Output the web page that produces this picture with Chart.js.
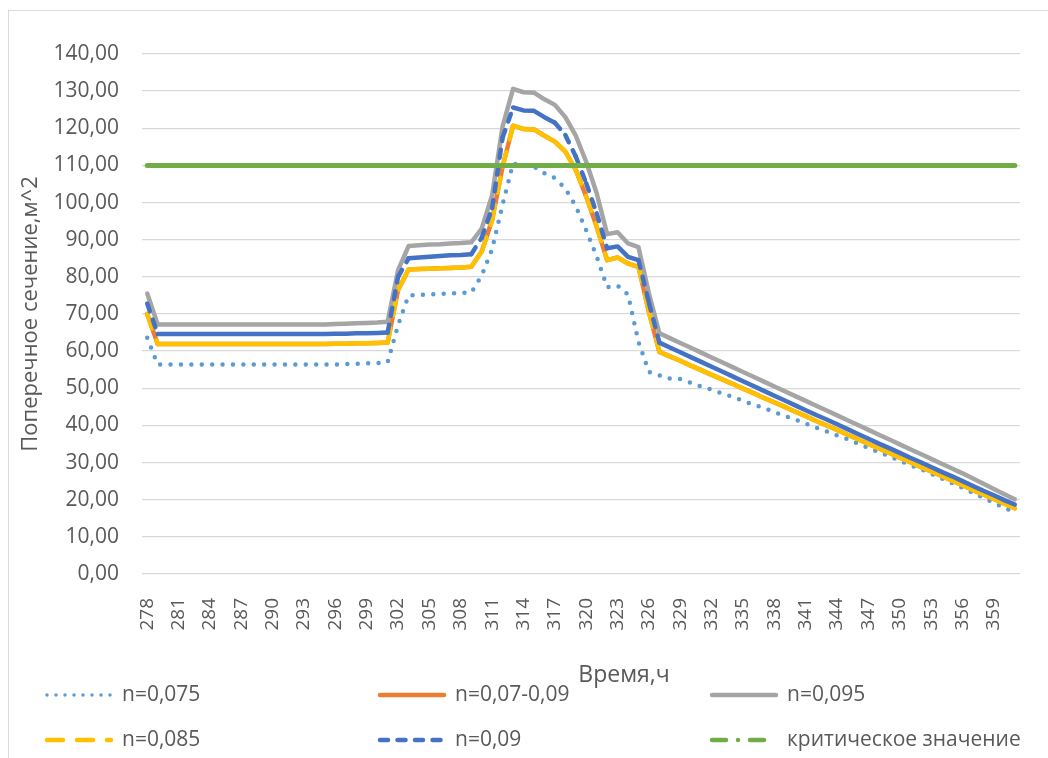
<!DOCTYPE html>
<html>
<head>
<meta charset="utf-8">
<script src="https://cdn.jsdelivr.net/npm/chart.js@4.4.1/dist/chart.umd.min.js"></script>
<style>
  html, body { margin: 0; padding: 0; background: #fff; overflow: hidden; }
  #frame { position: absolute; left: 8px; top: 10px; width: 1100px; height: 800px; border: 1.3px solid #d9d9d9; }
  #chart { position: absolute; left: 0; top: 0; }
</style>
</head>
<body>
<div id="frame"></div>
<canvas id="chart" width="1048" height="758"></canvas>
<script>
// time, hours
const times = [
  278, 279, 280, 281, 282, 283, 284, 285, 286, 287, 288, 289, 290, 291,
  292, 293, 294, 295, 296, 297, 298, 299, 300, 301, 302, 303, 304, 305,
  306, 307, 308, 309, 310, 311, 312, 313, 314, 315, 316, 317, 318, 319,
  320, 321, 322, 323, 324, 325, 326, 327, 328, 329, 330, 331, 332, 333,
  334, 335, 336, 337, 338, 339, 340, 341, 342, 343, 344, 345, 346, 347,
  348, 349, 350, 351, 352, 353, 354, 355, 356, 357, 358, 359, 360, 361
];

const n075 = [
  63.6, 56.4, 56.4, 56.4, 56.4, 56.4, 56.4, 56.4, 56.4, 56.4, 56.4, 56.4, 56.4, 56.4,
  56.4, 56.4, 56.4, 56.4, 56.4, 56.5, 56.6, 56.7, 56.8, 57.0, 67.0, 75.0, 75.1, 75.3,
  75.4, 75.5, 75.7, 75.8, 80.3, 87.5, 99.5, 110.5, 109.9, 109.7, 107.9, 106.6, 103.8, 99.0,
  92.5, 85.5, 77.2, 77.6, 75.2, 62.5, 54.4, 53.5, 52.6, 52.5, 51.5, 50.5, 49.6, 48.6,
  47.7, 46.6, 45.6, 44.7, 43.6, 42.5, 41.6, 40.5, 39.4, 38.4, 37.3, 36.3, 35.1, 33.9,
  32.8, 31.7, 30.5, 29.3, 28.3, 27.0, 25.7, 24.5, 23.2, 21.9, 20.5, 19.2, 17.8, 16.6
];

const n07_09 = [
  70.0, 61.9, 61.9, 61.9, 61.9, 61.9, 61.9, 61.9, 61.9, 61.9, 61.9, 61.9, 61.9, 61.9,
  61.9, 61.9, 61.9, 61.9, 62.0, 62.0, 62.1, 62.1, 62.2, 62.3, 76.5, 82.0, 82.1, 82.2,
  82.3, 82.4, 82.5, 82.7, 86.8, 95.3, 109.7, 120.7, 119.8, 119.7, 118.0, 116.4, 113.7, 108.8,
  101.6, 93.5, 84.5, 85.2, 83.6, 82.7, 70.5, 59.8, 58.6, 57.4, 56.1, 54.9, 53.6, 52.4,
  51.2, 49.9, 48.7, 47.4, 46.2, 45.0, 43.7, 42.5, 41.2, 40.0, 38.8, 37.5, 36.3, 35.0,
  33.8, 32.6, 31.3, 30.1, 28.8, 27.6, 26.4, 25.1, 23.9, 22.6, 21.4, 20.2, 18.9, 17.7
];

const n095 = [
  75.5, 67.2, 67.2, 67.2, 67.2, 67.2, 67.2, 67.2, 67.2, 67.2, 67.2, 67.2, 67.2, 67.2,
  67.2, 67.2, 67.2, 67.2, 67.3, 67.4, 67.5, 67.6, 67.7, 67.9, 81.8, 88.3, 88.5, 88.7,
  88.8, 89.0, 89.1, 89.3, 93.0, 102.0, 120.5, 130.6, 129.7, 129.6, 127.8, 126.3, 123.0, 118.0,
  111.0, 102.5, 91.5, 92.0, 89.0, 88.0, 75.5, 64.8, 63.5, 62.2, 60.9, 59.6, 58.3, 57.0,
  55.7, 54.4, 53.1, 51.8, 50.5, 49.2, 47.9, 46.6, 45.3, 44.0, 42.7, 41.4, 40.1, 38.8,
  37.5, 36.2, 34.9, 33.6, 32.3, 31.0, 29.7, 28.4, 27.1, 25.7, 24.3, 22.9, 21.5, 20.1
];

const n085 = [
  70.0, 61.9, 61.9, 61.9, 61.9, 61.9, 61.9, 61.9, 61.9, 61.9, 61.9, 61.9, 61.9, 61.9,
  61.9, 61.9, 61.9, 61.9, 62.0, 62.0, 62.1, 62.1, 62.2, 62.3, 76.5, 82.0, 82.1, 82.2,
  82.3, 82.4, 82.5, 82.7, 86.8, 95.3, 109.7, 120.7, 119.8, 119.7, 118.0, 116.4, 113.7, 108.8,
  101.6, 93.5, 84.5, 85.2, 83.6, 82.7, 70.5, 59.8, 58.6, 57.4, 56.1, 54.9, 53.6, 52.4,
  51.2, 49.9, 48.7, 47.4, 46.2, 45.0, 43.7, 42.5, 41.2, 40.0, 38.8, 37.5, 36.3, 35.0,
  33.8, 32.6, 31.3, 30.1, 28.8, 27.6, 26.4, 25.1, 23.9, 22.6, 21.4, 20.2, 18.9, 17.7
];

const n09 = [
  72.8, 64.6, 64.6, 64.6, 64.6, 64.6, 64.6, 64.6, 64.6, 64.6, 64.6, 64.6, 64.6, 64.6,
  64.6, 64.6, 64.6, 64.6, 64.7, 64.7, 64.8, 64.8, 64.9, 65.0, 80.0, 85.0, 85.2, 85.4,
  85.6, 85.8, 85.9, 86.1, 90.5, 98.5, 117.5, 125.6, 124.8, 124.7, 123.0, 121.5, 118.2, 112.4,
  105.2, 97.1, 87.7, 88.2, 85.4, 84.5, 73.0, 62.3, 61.0, 59.7, 58.4, 57.1, 55.8, 54.5,
  53.2, 51.9, 50.6, 49.3, 48.0, 46.7, 45.4, 44.1, 42.8, 41.6, 40.3, 39.0, 37.7, 36.4,
  35.1, 33.9, 32.6, 31.3, 30.1, 28.8, 27.5, 26.3, 25.0, 23.7, 22.4, 21.2, 19.9, 18.7
];

const critical = [
  110, 110, 110, 110, 110, 110, 110, 110, 110, 110, 110, 110, 110, 110,
  110, 110, 110, 110, 110, 110, 110, 110, 110, 110, 110, 110, 110, 110,
  110, 110, 110, 110, 110, 110, 110, 110, 110, 110, 110, 110, 110, 110,
  110, 110, 110, 110, 110, 110, 110, 110, 110, 110, 110, 110, 110, 110,
  110, 110, 110, 110, 110, 110, 110, 110, 110, 110, 110, 110, 110, 110,
  110, 110, 110, 110, 110, 110, 110, 110, 110, 110, 110, 110, 110, 110
];

const seriesNames = ['n=0,075', 'n=0,07-0,09', 'n=0,095', 'n=0,085', 'n=0,09', 'критическое значение'];

const FONT = '"Open Sans", "Noto Sans", sans-serif';
const TEXT = '#595959';

// excel restarts the dash on every segment, so short segments look solid
function excelDash(dash, gap) {
    return c => {
        const len = Math.hypot(c.p1.x - c.p0.x, c.p1.y - c.p0.y);
        if (len < dash + 8) return [];
        return [dash, gap + (c.p0DataIndex % 2) * 0.001];
    };
}

const datasets = [
    { label: seriesNames[0], data: n075, borderColor: '#5B9BD5', borderWidth: 4.5, borderDash: [0, 10.4], order: 6, legendDash: [0, 9], legendWidth: 3.5 },
    { label: seriesNames[1], data: n07_09, borderColor: '#ED7D31', borderWidth: 4.5, order: 5, legendDash: [], legendWidth: 4.5 },
    { label: seriesNames[2], data: n095, borderColor: '#A5A5A5', borderWidth: 4.5, order: 4, legendDash: [], legendWidth: 4.5 },
    { label: seriesNames[3], data: n085, borderColor: '#FFC000', borderWidth: 4.5, order: 3, segment: { borderDash: excelDash(15, 13) }, legendDash: [16, 14], legendWidth: 4.5 },
    { label: seriesNames[4], data: n09, borderColor: '#4472C4', borderWidth: 4.5, order: 2, segment: { borderDash: excelDash(8, 9) }, legendDash: [8, 9.5], legendWidth: 4.5 },
    { label: seriesNames[5], data: critical, borderColor: '#70AD47', borderWidth: 5, order: 1, legendDash: [14, 12, 0, 12], legendWidth: 4.5 }
];
datasets.forEach(ds => {
    ds.pointRadius = 0;
    ds.tension = 0;
    ds.fill = false;
    ds.borderCapStyle = 'round';
    ds.borderJoinStyle = 'round';
});

// legend in three columns + shifted axis title, like the excel original
const excelLegend = {
    id: 'excelLegend',
    afterDraw(chart) {
        const ctx = chart.ctx;
        ctx.save();
        ctx.fillStyle = TEXT;
        ctx.textBaseline = 'middle';
        ctx.font = '23px ' + FONT;
        ctx.textAlign = 'center';
        ctx.fillText('Время,ч', 624, 675);

        ctx.font = '21px ' + FONT;
        ctx.textAlign = 'left';
        const colX = [45, 378, 710];
        const rowY = [695, 740];
        chart.data.datasets.forEach((ds, i) => {
            const x = colX[i % 3];
            const y = rowY[Math.floor(i / 3)];
            ctx.save();
            ctx.strokeStyle = ds.borderColor;
            ctx.lineWidth = ds.legendWidth;
            ctx.lineCap = 'round';
            ctx.setLineDash(ds.legendDash);
            ctx.beginPath();
            ctx.moveTo(x + 2, y);
            ctx.lineTo(x + 66, y);
            ctx.stroke();
            ctx.restore();
            ctx.fillText(ds.label, x + 77, y);
        });
        ctx.restore();
    }
};

new Chart(document.getElementById('chart'), {
    type: 'line',
    data: { labels: times, datasets: datasets },
    options: {
        responsive: false,
        animation: false,
        layout: { padding: { top: 54, right: 28, left: 0, bottom: 0 } },
        plugins: { legend: { display: false }, tooltip: { enabled: false } },
        scales: {
            x: {
                offset: true,
                grid: { display: false, drawTicks: false },
                border: { display: false },
                ticks: {
                    autoSkip: false,
                    minRotation: 90,
                    maxRotation: 90,
                    padding: 24,
                    color: TEXT,
                    font: { family: FONT, size: 19 },
                    callback: (v, i) => (i % 3 === 0 ? String(times[i]) : '')
                },
                afterFit: s => {
                    s.height = 184;
                    s.paddingLeft = 0;
                    s.paddingRight = 0;
                }
            },
            y: {
                min: 0,
                max: 140,
                grid: { color: '#d9d9d9', lineWidth: 1.3, drawTicks: false },
                border: { display: false },
                ticks: {
                    stepSize: 10,
                    padding: 23,
                    color: TEXT,
                    font: { family: FONT, size: 21 },
                    callback: v => v.toFixed(2).replace('.', ',')
                },
                title: {
                    display: true,
                    text: 'Поперечное сечение,м^2',
                    color: TEXT,
                    font: { family: FONT, size: 22 },
                    padding: { top: 18, bottom: 0 }
                },
                afterFit: s => {
                    s.width = 142;
                    s.paddingTop = 0;
                    s.paddingBottom = 0;
                }
            }
        }
    },
    plugins: [excelLegend]
});
</script>
</body>
</html>
